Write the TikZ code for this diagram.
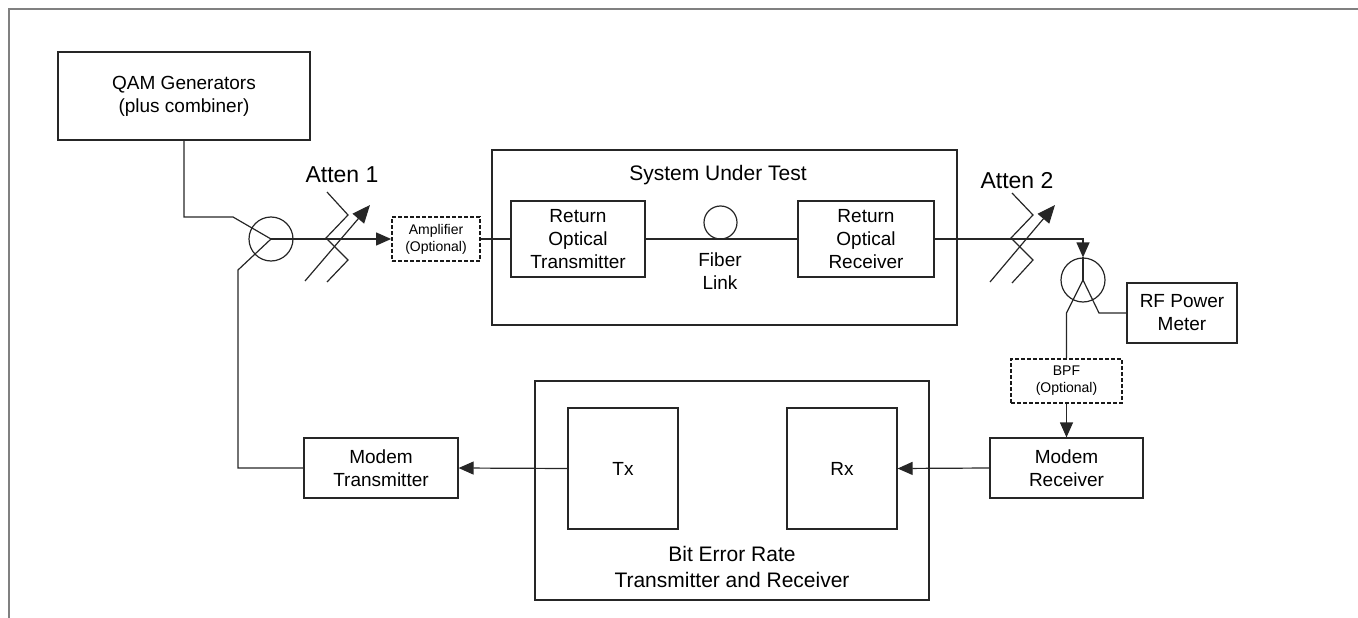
\documentclass[tikz,border=0pt]{standalone}
\usepackage{fontspec}
\setmainfont{Liberation Sans}
\usetikzlibrary{arrows.meta}
\begin{document}
\begin{tikzpicture}[x=1pt,y=-1pt,
  line width=1.2pt, draw=black!85,
  box/.style={draw=black!85, line width=1.2pt, align=center, inner sep=0pt, text=black,
    font=\fontsize{19}{23}\selectfont},
  optbox/.style={box, dash pattern=on 4pt off 2pt, line width=1.8pt, draw=black!90,
    font=\fontsize{14}{17}\selectfont},
  circ/.style={draw=black!85, line width=1.2pt, circle, inner sep=0pt},
  arr/.style={-{Triangle[length=15pt,width=13pt]}},
  attarr/.style={-{Triangle[length=18pt,width=15pt]}},
  biglbl/.style={font=\fontsize{23}{27}\selectfont, inner sep=0pt, text=black},
  midlbl/.style={font=\fontsize{21}{26}\selectfont, inner sep=0pt, align=center, text=black},
  txtlbl/.style={font=\fontsize{19}{23}\selectfont, inner sep=0pt, align=center, text=black},
  frame/.style={draw=black!50, line width=2pt}
]
\useasboundingbox (0,0) rectangle (1358,618);
\draw[frame] (9,618) -- (9,9) -- (1358,9);

% boxes
\node[box, minimum width=252pt, minimum height=88pt] (qam) at (184,96) {QAM Generators\\(plus combiner)};
\node[box, minimum width=465pt, minimum height=175pt] (sut) at (724.5,237.5) {};
\node[midlbl] (sutl) at (718,175) {System Under Test};
\node[box, minimum width=134pt, minimum height=76pt] (rotx) at (578,239) {Return\\Optical\\Transmitter};
\node[box, minimum width=136pt, minimum height=76pt] (ror) at (866,239) {Return\\Optical\\Receiver};
\node[optbox, minimum width=88pt, minimum height=44pt] (amp) at (436,239) {Amplifier\\(Optional)};
\node[box, minimum width=110pt, minimum height=60pt] (rfpm) at (1182,313) {RF Power\\Meter};
\node[optbox, minimum width=111pt, minimum height=44pt] (bpf) at (1066.5,381) {BPF\\(Optional)};
\node[box, minimum width=153pt, minimum height=60pt] (mrx) at (1066.5,468) {Modem\\Receiver};
\node[box, minimum width=394pt, minimum height=219pt] (ber) at (732,490.5) {};
\node[midlbl] (berl) at (732,567) {Bit Error Rate\\Transmitter and Receiver};
\node[box, minimum width=110pt, minimum height=121pt] (tx) at (623,468.5) {Tx};
\node[box, minimum width=110pt, minimum height=121pt] (rx) at (842,468.5) {Rx};
\node[box, minimum width=154pt, minimum height=60pt] (mtx) at (381,468) {Modem\\Transmitter};

% circles
\node[circ, minimum size=44pt] (comb) at (271,239) {};
\node[circ, minimum size=44pt] (split) at (1083,280) {};
\node[circ, minimum size=33pt] (fiber) at (720.5,222.5) {};
\node[txtlbl] (fibl) at (720,271) {Fiber\\Link};

% attenuators
\node[biglbl] (a1l) at (342,175) {Atten 1};
\node[biglbl] (a2l) at (1017,181) {Atten 2};
\draw (327,192) -- (348,215) -- (326,238) -- (348,260) -- (327,282);
\draw[attarr] (305,281) -- (370,205);
\draw (1012,193) -- (1033,215) -- (1011,238) -- (1033,260) -- (1012,283);
\draw[attarr] (990,282) -- (1055,205);

% connectors
\coordinate (q1) at (184,217);
\coordinate (q2) at (233,217);
\coordinate (m1) at (238,468);
\coordinate (m2) at (238,270);
\coordinate (s1) at (1083,239);
\coordinate (s2) at (1099,313);
\coordinate (s3) at (1066.5,313);

\draw (qam.south) -- (q1) -- (q2) -- (comb.center);
\draw[arr] (comb.center) -- (amp.west);
\draw (amp.east) -- (rotx.west);
\draw (rotx.east) -- (ror.west);
\draw[arr] (ror.east) -- (s1) -- (split.north);
\draw (split.north) -- (split.center);
\draw (split.center) -- (s2) -- (rfpm.west);
\draw (split.center) -- (s3) -- (bpf.north);
\draw[arr] (bpf.south) -- (mrx.north);
\draw[arr] (mrx.west) -- (rx.east);
\draw[arr] (tx.west) -- (mtx.east);
\draw (mtx.west) -- (m1) -- (m2) -- (comb.center);
\end{tikzpicture}
\end{document}
